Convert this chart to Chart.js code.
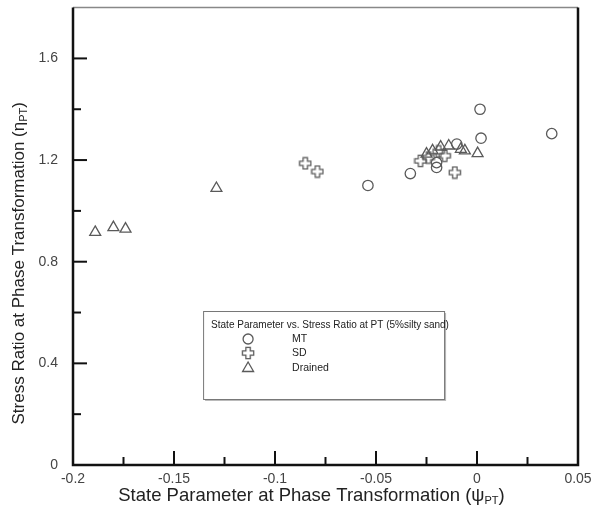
<!DOCTYPE html>
<html>
<head>
<meta charset="utf-8">
<script src="https://cdn.jsdelivr.net/npm/chart.js@4/dist/chart.umd.min.js"></script>
<style>
  html, body { margin: 0; padding: 0; background: #fff; }
  #wrap { position: relative; width: 593px; height: 510px; }
</style>
</head>
<body>
<div id="wrap"><canvas id="chart" width="593" height="510"></canvas></div>
<script>
// state parameter (psi_PT) and stress ratio (eta_PT) for each test series
const mtPsi = [-0.054, -0.033, -0.020, -0.020, -0.010, 0.0015, 0.002, 0.037];
const mtEta = [1.10, 1.147, 1.19, 1.171, 1.263, 1.40, 1.286, 1.304];

const sdPsi = [-0.085, -0.079, -0.028, -0.024, -0.019, -0.016, -0.011];
const sdEta = [1.187, 1.155, 1.197, 1.21, 1.234, 1.217, 1.151];

const drPsi = [-0.189, -0.180, -0.174, -0.129, -0.025, -0.022, -0.018, -0.014, -0.008, -0.006, 0.0003];
const drEta = [0.916, 0.935, 0.929, 1.089, 1.224, 1.237, 1.252, 1.256, 1.243, 1.237, 1.226];

const seriesNames = ["MT", "SD", "Drained"];

const xMajor = [-0.2, -0.15, -0.1, -0.05, 0, 0.05];
const xMinor = [-0.175, -0.125, -0.075, -0.025, 0.025];
const yMajor = [0, 0.4, 0.8, 1.2, 1.6];
const yMinor = [0.2, 0.6, 1.0, 1.4];

const legendTitle = "State Parameter vs. Stress Ratio at PT (5%silty sand)";
const FONT = "'Liberation Sans', Arial, sans-serif";
const INK = "#5a5a5a";

// outlined plus marker for the SD series
function makeCross() {
  const c = document.createElement("canvas");
  c.width = 14; c.height = 14;
  const g = c.getContext("2d");
  const m = 7, a = 2.2, L = 5.6;
  g.strokeStyle = INK;
  g.lineWidth = 1.3;
  g.beginPath();
  g.moveTo(m - a, m - L); g.lineTo(m + a, m - L); g.lineTo(m + a, m - a);
  g.lineTo(m + L, m - a); g.lineTo(m + L, m + a); g.lineTo(m + a, m + a);
  g.lineTo(m + a, m + L); g.lineTo(m - a, m + L); g.lineTo(m - a, m + a);
  g.lineTo(m - L, m + a); g.lineTo(m - L, m - a); g.lineTo(m - a, m - a);
  g.closePath();
  g.stroke();
  return c;
}
const crossImg = makeCross();

const toPts = (xs, ys) => xs.map((x, i) => ({ x: x, y: ys[i] }));

function textWithSub(ctx, main, sub, tail, x, y, size, align) {
  ctx.font = size + "px " + FONT;
  const wMain = ctx.measureText(main).width;
  ctx.font = Math.round(size * 0.62) + "px " + FONT;
  const wSub = ctx.measureText(sub).width;
  ctx.font = size + "px " + FONT;
  const wTail = ctx.measureText(tail).width;
  let x0 = align === "center" ? x - (wMain + wSub + wTail) / 2 : x;
  ctx.textAlign = "left";
  ctx.textBaseline = "middle";
  ctx.fillText(main, x0, y);
  ctx.font = Math.round(size * 0.62) + "px " + FONT;
  ctx.fillText(sub, x0 + wMain, y + size * 0.28);
  ctx.font = size + "px " + FONT;
  ctx.fillText(tail, x0 + wMain + wSub, y);
}

const framePlugin = {
  id: "frame",
  afterDatasetsDraw(chart) {
    const { ctx, chartArea: a, scales } = chart;
    const xs = scales.x, ys = scales.y;
    ctx.save();

    // box
    ctx.strokeStyle = "#888";
    ctx.lineWidth = 1.5;
    ctx.beginPath(); ctx.moveTo(a.left, a.top); ctx.lineTo(a.right, a.top); ctx.stroke();
    ctx.strokeStyle = "#111";
    ctx.lineWidth = 2.5;
    ctx.beginPath();
    ctx.moveTo(a.left, a.top); ctx.lineTo(a.left, a.bottom); ctx.lineTo(a.right, a.bottom); ctx.lineTo(a.right, a.top);
    ctx.stroke();

    // inward ticks
    ctx.lineWidth = 2;
    ctx.strokeStyle = "#111";
    const tickX = (v, len) => {
      const p = xs.getPixelForValue(v);
      ctx.beginPath(); ctx.moveTo(p, a.bottom); ctx.lineTo(p, a.bottom - len); ctx.stroke();
    };
    const tickY = (v, len) => {
      const p = ys.getPixelForValue(v);
      ctx.beginPath(); ctx.moveTo(a.left, p); ctx.lineTo(a.left + len, p); ctx.stroke();
    };
    xMajor.forEach(v => tickX(v, 14));
    xMinor.forEach(v => tickX(v, 8));
    yMajor.forEach(v => tickY(v, 14));
    yMinor.forEach(v => tickY(v, 8));

    // tick labels
    ctx.fillStyle = "#444";
    ctx.font = "14px " + FONT;
    ctx.textAlign = "center";
    ctx.textBaseline = "middle";
    xMajor.forEach(v => ctx.fillText(String(v), xs.getPixelForValue(v), a.bottom + 14));
    ctx.textAlign = "right";
    yMajor.forEach(v => ctx.fillText(v === 0 ? "0" : v.toFixed(1), a.left - 15, ys.getPixelForValue(v)));

    // axis titles
    ctx.fillStyle = "#222";
    textWithSub(ctx, "State Parameter at Phase Transformation (\u03c8", "PT", ")", (a.left + a.right) / 2 - 14, a.bottom + 31, 18.5, "center");
    ctx.save();
    ctx.translate(19, (a.top + a.bottom) / 2 + 27);
    ctx.rotate(-Math.PI / 2);
    textWithSub(ctx, "Stress Ratio at Phase Transformation (\u03b7", "PT", ")", 0, 0, 17, "center");
    ctx.restore();

    // legend box
    const bx = xs.getPixelForValue(-0.1356), by = ys.getPixelForValue(0.606);
    const bw = 241, bh = 88;
    ctx.fillStyle = "#bbb";
    ctx.fillRect(bx + 2, by + 2, bw, bh);
    ctx.fillStyle = "#fff";
    ctx.fillRect(bx, by, bw, bh);
    ctx.strokeStyle = "#777";
    ctx.lineWidth = 1;
    ctx.strokeRect(bx + 0.5, by + 0.5, bw, bh);

    ctx.fillStyle = "#222";
    ctx.font = "10px " + FONT;
    ctx.textAlign = "left";
    ctx.textBaseline = "middle";
    ctx.fillText(legendTitle, bx + 8, by + 14);
    const rows = [by + 28, by + 42, by + 57];
    const sx = bx + 45;
    ctx.strokeStyle = INK;
    ctx.lineWidth = 1.3;
    // circle
    ctx.beginPath(); ctx.arc(sx, rows[0], 5, 0, Math.PI * 2); ctx.stroke();
    // plus
    ctx.drawImage(crossImg, sx - 7, rows[1] - 7);
    // triangle
    ctx.beginPath();
    ctx.moveTo(sx, rows[2] - 6); ctx.lineTo(sx + 5.5, rows[2] + 3.5); ctx.lineTo(sx - 5.5, rows[2] + 3.5); ctx.closePath();
    ctx.stroke();
    ctx.fillStyle = "#222";
    ctx.font = "10.5px " + FONT;
    seriesNames.forEach((n, i) => ctx.fillText(n, bx + 89, rows[i]));

    ctx.restore();
  }
};

new Chart(document.getElementById("chart"), {
  type: "scatter",
  data: {
    datasets: [
      {
        label: seriesNames[0],
        data: toPts(mtPsi, mtEta),
        pointStyle: "circle",
        pointRadius: 5.2,
        borderColor: INK,
        backgroundColor: "rgba(0,0,0,0)",
        borderWidth: 1.3,
      },
      {
        label: seriesNames[1],
        data: toPts(sdPsi, sdEta),
        pointStyle: crossImg,
        pointRadius: 6,
        borderColor: INK,
        backgroundColor: "rgba(0,0,0,0)",
      },
      {
        label: seriesNames[2],
        data: toPts(drPsi, drEta),
        pointStyle: "triangle",
        pointRadius: 6.3,
        borderColor: INK,
        backgroundColor: "rgba(0,0,0,0)",
        borderWidth: 1.3,
      },
    ],
  },
  options: {
    responsive: false,
    animation: false,
    layout: { padding: { left: 73, right: 15, top: 7, bottom: 45 } },
    plugins: { legend: { display: false }, tooltip: { enabled: false } },
    scales: {
      x: { type: "linear", min: -0.2, max: 0.05, display: false },
      y: { type: "linear", min: 0, max: 1.8, display: false },
    },
  },
  plugins: [framePlugin],
});
</script>
</body>
</html>
